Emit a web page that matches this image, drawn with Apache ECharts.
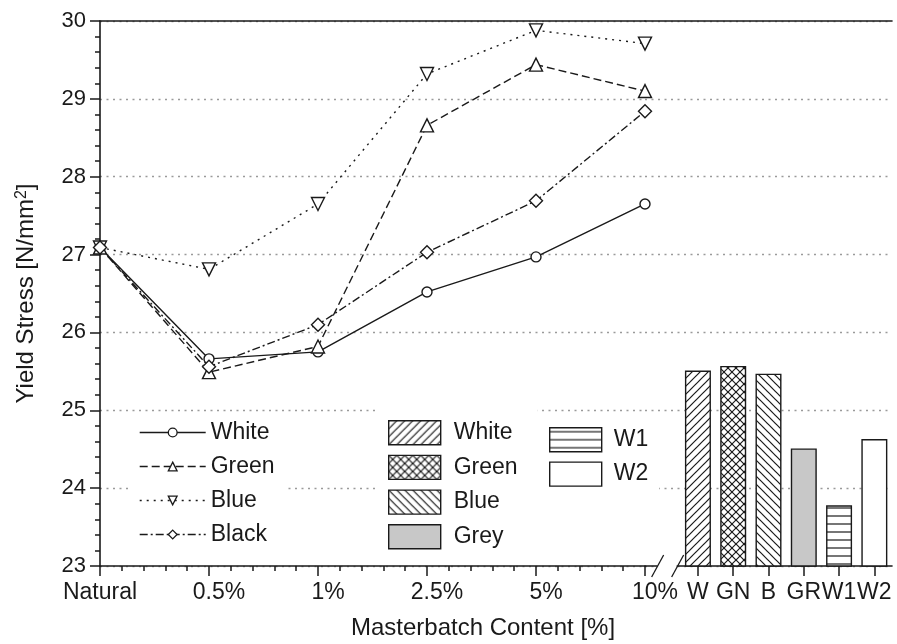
<!DOCTYPE html>
<html lang="en">
<head>
    <meta charset="UTF-8">
    <title>Yield Stress</title>
    <script src="https://cdn.jsdelivr.net/npm/echarts@6/dist/echarts.min.js"></script>
</head>
<body style="margin:0;background:#fff;">
<div id="myChart" style="width: 897px;height: 644px;"></div>
<script>
    // line part
    var categories = ['Natural', '0.5%', '1%', '2.5%', '5%', '10%'];
    var whiteVals = [27.09, 25.66, 25.75, 26.52, 26.97, 27.65];
    var greenVals = [27.09, 25.49, 25.82, 28.66, 29.44, 29.10];
    var blueVals = [27.09, 26.81, 27.65, 29.32, 29.88, 29.71];
    var blackVals = [27.09, 25.56, 26.10, 27.03, 27.69, 28.84];

    // bar part (first slot is the axis break)
    var barCategories = ['', 'W', 'GN', 'B', 'GR', 'W1', 'W2'];
    var barNames = ['White', 'Green', 'Blue', 'Grey', 'W1', 'W2'];
    var barVals = [25.51, 25.57, 25.47, 24.51, 23.78, 24.63];

    var FONT = "'Liberation Sans', Arial, sans-serif";
    var INK = '#1a1a1a';

    var myChart = echarts.init(document.getElementById('myChart'));

    function hatch(kind) {
        var s = 8;
        var c = document.createElement('canvas');
        c.width = s;
        c.height = s;
        var ctx = c.getContext('2d');
        ctx.fillStyle = '#fff';
        ctx.fillRect(0, 0, s, s);
        ctx.strokeStyle = INK;
        ctx.lineWidth = 1.2;
        function seg(x1, y1, x2, y2) {
            ctx.beginPath();
            ctx.moveTo(x1, y1);
            ctx.lineTo(x2, y2);
            ctx.stroke();
        }
        if (kind === 'fwd' || kind === 'cross') {
            seg(-1, s + 1, s + 1, -1);
            seg(-2, 2, 2, -2);
            seg(s - 2, s + 2, s + 2, s - 2);
        }
        if (kind === 'back' || kind === 'cross') {
            seg(-1, -1, s + 1, s + 1);
            seg(s - 2, -2, s + 2, 2);
            seg(-2, s - 2, 2, s + 2);
        }
        if (kind === 'horiz') {
            seg(0, s / 2, s, s / 2);
        }
        return {image: c, repeat: 'repeat'};
    }

    var barFills = [hatch('fwd'), hatch('cross'), hatch('back'), '#c8c8c8', hatch('horiz'), '#ffffff'];

    function pts(vals) {
        return vals.map(function (v, i) { return [i, v]; });
    }

    function lineSeries(name, vals, symbol, rotate, dash) {
        return {
            name: name,
            type: 'line',
            xAxisIndex: 0,
            yAxisIndex: 0,
            data: pts(vals),
            symbol: symbol,
            symbolSize: symbol === 'circle' ? 10 : 13,
            symbolRotate: rotate,
            showAllSymbol: true,
            lineStyle: {color: INK, width: 1.4, type: dash},
            itemStyle: {color: '#fff', borderColor: INK, borderWidth: 1.4}
        };
    }

    var series = [
        lineSeries('White', whiteVals, 'circle', 0, 'solid'),
        lineSeries('Green', greenVals, 'triangle', 0, [8, 4]),
        lineSeries('Blue', blueVals, 'triangle', 180, [2, 5]),
        lineSeries('Black', blackVals, 'diamond', 0, [8, 3, 2, 3])
    ];

    barNames.forEach(function (n, j) {
        var d = barCategories.map(function () { return '-'; });
        d[j + 1] = barVals[j];
        series.push({
            name: 'bar:' + n,
            type: 'bar',
            xAxisIndex: 1,
            yAxisIndex: 1,
            data: d,
            barWidth: 26,
            barGap: '-100%',
            itemStyle: {color: barFills[j], borderColor: INK, borderWidth: 1.4}
        });
    });

    // axis break marks
    series.push({
        type: 'custom',
        xAxisIndex: 1,
        yAxisIndex: 1,
        clip: false,
        silent: true,
        data: [[0, 23]],
        renderItem: function (params, api) {
            var p = api.coord([api.value(0), api.value(1)]);
            return {
                type: 'group',
                children: [
                    {type: 'rect', shape: {x: p[0] - 5, y: p[1] - 3, width: 19, height: 6}, style: {fill: '#fff'}},
                    {type: 'line', shape: {x1: p[0] - 11, y1: p[1] + 11, x2: p[0] + 1, y2: p[1] - 11}, style: {stroke: INK, lineWidth: 1.3}},
                    {type: 'line', shape: {x1: p[0] + 9, y1: p[1] + 11, x2: p[0] + 21, y2: p[1] - 11}, style: {stroke: INK, lineWidth: 1.3}}
                ]
            };
        }
    });

    var axisLine = {show: true, lineStyle: {color: INK, width: 1.6}};
    var dotted = {show: true, lineStyle: {color: '#9a9a9a', width: 1.4, type: [2, 4.5]}};
    var legendText = {fontFamily: FONT, fontSize: 23, color: INK};

    var option = {
        animation: false,
        backgroundColor: '#fff',
        grid: [
            {left: 100, top: 21, width: 545, height: 545},
            {left: 645, top: 21, width: 247, height: 545}
        ],
        xAxis: [
            {
                type: 'value', gridIndex: 0, position: 'bottom',
                min: 0, max: 5, interval: 1,
                axisLine: axisLine,
                axisTick: {show: true, length: 10, lineStyle: {color: INK, width: 1.5}},
                minorTick: {show: true, splitNumber: 5, length: 5, lineStyle: {color: INK, width: 1.5}},
                splitLine: {show: false},
                axisLabel: {
                    margin: 15,
                    fontFamily: FONT, fontSize: 23, color: INK,
                    formatter: function (v) {
                        var name = categories[v];
                        if (name === undefined) return '';
                        return name.indexOf('%') > -1 ? '{p|' + name + '}' : name;
                    },
                    rich: {p: {fontFamily: FONT, fontSize: 23, color: INK, padding: [0, 0, 0, 20]}}
                }
            },
            {
                type: 'category', gridIndex: 1, position: 'bottom',
                data: barCategories,
                boundaryGap: true,
                axisLine: axisLine,
                axisTick: {
                    show: true, length: 10, alignWithLabel: true,
                    interval: function (i, v) { return v !== ''; },
                    lineStyle: {color: INK, width: 1.5}
                },
                axisLabel: {margin: 15, interval: 0, fontFamily: FONT, fontSize: 23, color: INK},
                splitLine: {show: false}
            },
            {
                type: 'value', gridIndex: 0, position: 'top', min: 0, max: 5,
                axisLine: axisLine, axisTick: {show: false}, axisLabel: {show: false}, splitLine: {show: false}
            },
            {
                type: 'category', gridIndex: 1, position: 'top', data: barCategories,
                axisLine: axisLine, axisTick: {show: false}, axisLabel: {show: false}, splitLine: {show: false}
            }
        ],
        yAxis: [
            {
                type: 'value', gridIndex: 0,
                min: 23, max: 30, interval: 1,
                name: 'Yield Stress [N/mm{sup|2}]',
                nameLocation: 'middle',
                nameGap: 62,
                nameTextStyle: {
                    fontFamily: FONT, fontSize: 24, color: INK,
                    rich: {sup: {fontFamily: FONT, fontSize: 16, color: INK, verticalAlign: 'top'}}
                },
                axisLine: axisLine,
                axisTick: {show: true, length: 10, lineStyle: {color: INK, width: 1.5}},
                minorTick: {show: true, splitNumber: 5, length: 5, lineStyle: {color: INK, width: 1.5}},
                axisLabel: {margin: 14, fontFamily: FONT, fontSize: 22, color: INK},
                splitLine: dotted
            },
            {
                type: 'value', gridIndex: 1,
                min: 23, max: 30, interval: 1,
                axisLine: {show: false}, axisTick: {show: false}, axisLabel: {show: false},
                splitLine: dotted
            }
        ],
        legend: [
            {
                orient: 'vertical', left: 128, top: 413,
                padding: [8, 12, 8, 11],
                backgroundColor: '#fff',
                itemWidth: 66, itemHeight: 11, itemGap: 11,
                data: ['White', 'Green', 'Blue', 'Black'],
                lineStyle: {width: 1.4},
                itemStyle: {borderWidth: 1.3},
                textStyle: legendText,
                selectedMode: false
            },
            {
                orient: 'vertical', left: 376, top: 406,
                padding: [14, 20, 8, 12],
                backgroundColor: '#fff',
                icon: 'rect',
                itemWidth: 52, itemHeight: 24, itemGap: 9.3,
                data: ['bar:White', 'bar:Green', 'bar:Blue', 'bar:Grey'],
                formatter: function (n) { return n.replace('bar:', ''); },
                itemStyle: {borderWidth: 1.4},
                textStyle: Object.assign({padding: [0, 0, 0, 8]}, legendText),
                selectedMode: false
            },
            {
                orient: 'vertical', left: 537, top: 415,
                padding: [12, 11, 8, 12],
                backgroundColor: '#fff',
                icon: 'rect',
                itemWidth: 52, itemHeight: 24, itemGap: 9,
                data: ['bar:W1', 'bar:W2'],
                formatter: function (n) { return n.replace('bar:', ''); },
                itemStyle: {borderWidth: 1.4},
                textStyle: Object.assign({padding: [0, 0, 0, 7]}, legendText),
                selectedMode: false
            }
        ],
        graphic: [
            {
                type: 'text', x: 483, y: 628,
                style: {
                    text: 'Masterbatch Content [%]',
                    fontFamily: FONT, fontSize: 24, fill: INK,
                    align: 'center', verticalAlign: 'middle'
                }
            }
        ],
        series: series
    };

    myChart.setOption(option);
</script>
</body>
</html>
